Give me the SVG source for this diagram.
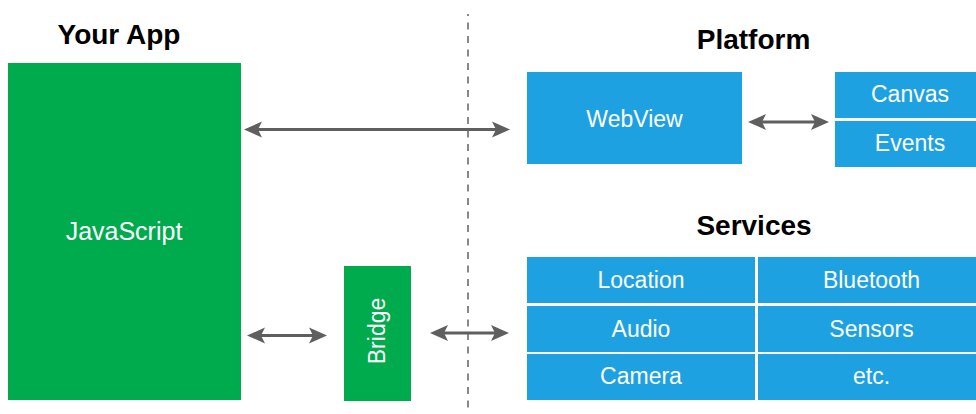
<svg xmlns="http://www.w3.org/2000/svg" width="976" height="414" viewBox="0 0 976 414">
  <style>
    .title { font-family: "Liberation Sans", Arial, sans-serif; font-weight: bold; font-size: 28px; fill: #000; text-anchor: middle; }
    .label { font-family: "Liberation Sans", Arial, sans-serif; font-size: 23px; fill: #fff; text-anchor: middle; }
    .app { fill: #00ab4e; }
    .sys { fill: #1ea1e1; }
    .link { stroke: #5f5f5f; stroke-width: 3; fill: none; }
    .head { fill: #5f5f5f; }
  </style>
  <defs>
    <!-- notched arrowhead, tip at origin pointing left -->
    <path id="tipL" class="head" d="M0,0 L18,-8 L14,0 L18,8 Z"/>
    <path id="tipR" class="head" d="M0,0 L-18,-8 L-14,0 L-18,8 Z"/>
  </defs>

  <!-- boundary between app and platform -->
  <line x1="468" y1="14" x2="468" y2="414" stroke="#888" stroke-width="2" stroke-dasharray="7 6.5" stroke-dashoffset="5"/>

  <text class="title" x="119" y="44">Your App</text>
  <text class="title" x="753.5" y="49">Platform</text>
  <text class="title" x="754" y="235">Services</text>

  <g id="javascript">
    <rect class="app" x="8" y="63" width="233" height="337"/>
    <text class="label" x="124" y="240" style="font-size:25px">JavaScript</text>
  </g>

  <g id="bridge">
    <rect class="app" x="344" y="266" width="67" height="135"/>
    <text class="label" transform="translate(385 331) rotate(-90)">Bridge</text>
  </g>

  <g id="webview">
    <rect class="sys" x="527" y="72" width="215" height="92"/>
    <text class="label" x="634.5" y="127">WebView</text>
  </g>

  <g id="canvas">
    <rect class="sys" x="835" y="72" width="145" height="46"/>
    <text class="label" x="910" y="102">Canvas</text>
  </g>
  <g id="events">
    <rect class="sys" x="835" y="121" width="145" height="46"/>
    <text class="label" x="910" y="151">Events</text>
  </g>

  <g id="location">
    <rect class="sys" x="527" y="257" width="228" height="46"/>
    <text class="label" x="641" y="288">Location</text>
  </g>
  <g id="bluetooth">
    <rect class="sys" x="758" y="257" width="222" height="46"/>
    <text class="label" x="871.5" y="288">Bluetooth</text>
  </g>
  <g id="audio">
    <rect class="sys" x="527" y="306" width="228" height="46"/>
    <text class="label" x="641" y="337">Audio</text>
  </g>
  <g id="sensors">
    <rect class="sys" x="758" y="306" width="222" height="46"/>
    <text class="label" x="871.5" y="337">Sensors</text>
  </g>
  <g id="camera">
    <rect class="sys" x="527" y="354" width="228" height="46"/>
    <text class="label" x="641" y="384">Camera</text>
  </g>
  <g id="etc">
    <rect class="sys" x="758" y="354" width="222" height="46"/>
    <text class="label" x="871.5" y="384">etc.</text>
  </g>

  <g id="connectors">
    <!-- JavaScript <-> WebView -->
    <line class="link" x1="256" y1="129.5" x2="497" y2="129.5"/>
    <use href="#tipL" x="244" y="129.5"/>
    <use href="#tipR" x="510" y="129.5"/>
    <!-- WebView <-> Canvas/Events -->
    <line class="link" x1="760" y1="122" x2="817" y2="122"/>
    <use href="#tipL" x="748" y="122"/>
    <use href="#tipR" x="829" y="122"/>
    <!-- JavaScript <-> Bridge -->
    <line class="link" x1="259" y1="335.5" x2="315" y2="335.5"/>
    <use href="#tipL" x="247" y="335.5"/>
    <use href="#tipR" x="327" y="335.5"/>
    <!-- Bridge <-> Services -->
    <line class="link" x1="442" y1="333" x2="497" y2="333"/>
    <use href="#tipL" x="430" y="333"/>
    <use href="#tipR" x="509" y="333"/>
  </g>
</svg>
